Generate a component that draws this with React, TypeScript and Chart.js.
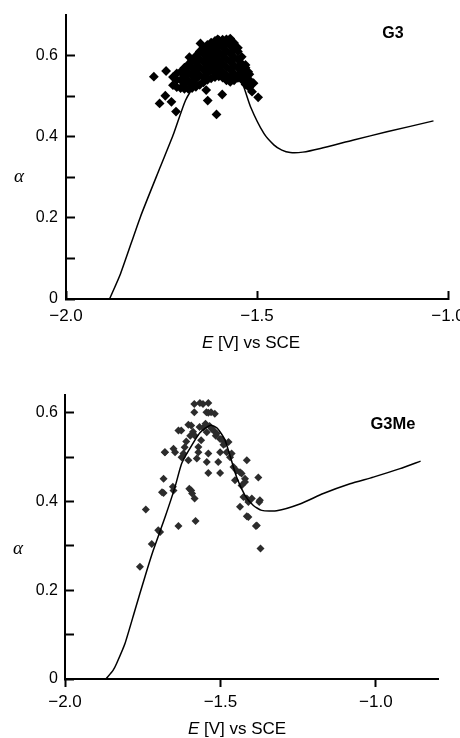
import React, { useEffect, useRef } from 'react';
import { Chart, registerables } from 'chart.js';

Chart.register(...registerables);

// ---------- shared tick definitions ----------
const yTickValues = [0, 0.1, 0.2, 0.3, 0.4, 0.5, 0.6];
const yTickLabels = ['0', '', '0.2', '', '0.4', '', '0.6'];
const xTickValues = [-2.0, -1.5, -1.0];
const xTickLabels = ['\u22122.0', '\u22121.5', '\u22121.0'];

// ---------- G3 (top panel) ----------
const g3CurveE = [-1.886, -1.857, -1.805, -1.753, -1.718, -1.687, -1.66, -1.62, -1.58, -1.55, -1.539, -1.517, -1.482, -1.456, -1.435, -1.413, -1.38, -1.334, -1.247, -1.16, -1.038];
const g3CurveAlpha = [0, 0.063, 0.203, 0.326, 0.408, 0.49, 0.53, 0.55, 0.555, 0.55, 0.535, 0.474, 0.408, 0.38, 0.367, 0.361, 0.362, 0.371, 0.392, 0.412, 0.439];

const g3Scatter: [number, number][] = [
  [-1.770, 0.548], [-1.738, 0.562], [-1.755, 0.482], [-1.740, 0.501], [-1.724, 0.486], [-1.712, 0.462],
  [-1.677, 0.596], [-1.648, 0.630], [-1.603, 0.640], [-1.570, 0.642], [-1.629, 0.489], [-1.633, 0.515],
  [-1.606, 0.455], [-1.591, 0.504], [-1.509, 0.532], [-1.497, 0.497], [-1.513, 0.511], [-1.523, 0.560],
  [-1.537, 0.545], [-1.561, 0.593],
  [-1.72, 0.527], [-1.72, 0.547],
  [-1.71, 0.522], [-1.71, 0.540], [-1.71, 0.556],
  [-1.70, 0.520], [-1.70, 0.540], [-1.70, 0.560],
  [-1.69, 0.518], [-1.69, 0.530], [-1.69, 0.550], [-1.69, 0.570],
  [-1.68, 0.518], [-1.68, 0.538], [-1.68, 0.558], [-1.68, 0.578],
  [-1.67, 0.520], [-1.67, 0.530], [-1.67, 0.550], [-1.67, 0.570], [-1.67, 0.587],
  [-1.66, 0.523], [-1.66, 0.542], [-1.66, 0.562], [-1.66, 0.582], [-1.66, 0.599],
  [-1.65, 0.528], [-1.65, 0.552], [-1.65, 0.572], [-1.65, 0.592], [-1.65, 0.610],
  [-1.64, 0.534], [-1.64, 0.545], [-1.64, 0.565], [-1.64, 0.585], [-1.64, 0.605], [-1.64, 0.619],
  [-1.63, 0.540], [-1.63, 0.556], [-1.63, 0.576], [-1.63, 0.596], [-1.63, 0.614], [-1.63, 0.626],
  [-1.62, 0.544], [-1.62, 0.566], [-1.62, 0.586], [-1.62, 0.606], [-1.62, 0.624], [-1.62, 0.632],
  [-1.61, 0.547], [-1.61, 0.557], [-1.61, 0.577], [-1.61, 0.597], [-1.61, 0.617], [-1.61, 0.636],
  [-1.60, 0.549], [-1.60, 0.568], [-1.60, 0.588], [-1.60, 0.608], [-1.60, 0.628], [-1.60, 0.638],
  [-1.59, 0.546], [-1.59, 0.560], [-1.59, 0.580], [-1.59, 0.600], [-1.59, 0.620], [-1.59, 0.639],
  [-1.58, 0.539], [-1.58, 0.552], [-1.58, 0.572], [-1.58, 0.592], [-1.58, 0.612], [-1.58, 0.632], [-1.58, 0.640],
  [-1.57, 0.535], [-1.57, 0.545], [-1.57, 0.565], [-1.57, 0.585], [-1.57, 0.605], [-1.57, 0.625], [-1.57, 0.639],
  [-1.56, 0.539], [-1.56, 0.556], [-1.56, 0.576], [-1.56, 0.596], [-1.56, 0.616], [-1.56, 0.631],
  [-1.55, 0.545], [-1.55, 0.550], [-1.55, 0.570], [-1.55, 0.590], [-1.55, 0.610], [-1.55, 0.619],
  [-1.54, 0.541], [-1.54, 0.560], [-1.54, 0.580], [-1.54, 0.597],
  [-1.53, 0.529], [-1.53, 0.550], [-1.53, 0.570], [-1.53, 0.577],
  [-1.52, 0.521], [-1.52, 0.540], [-1.52, 0.554],
];

// ---------- G3Me (bottom panel) ----------
const g3meCurveE = [-1.868, -1.845, -1.834, -1.807, -1.775, -1.743, -1.716, -1.678, -1.646, -1.625, -1.602, -1.566, -1.532, -1.51, -1.485, -1.448, -1.421, -1.394, -1.367, -1.319, -1.242, -1.169, -1.083, -1.008, -0.922, -0.856];
const g3meCurveAlpha = [0, 0.02, 0.035, 0.08, 0.155, 0.23, 0.29, 0.365, 0.433, 0.485, 0.515, 0.555, 0.572, 0.565, 0.538, 0.455, 0.414, 0.391, 0.38, 0.379, 0.395, 0.418, 0.44, 0.455, 0.474, 0.491];

const g3meScatter: [number, number][] = [
  [-1.759, 0.253], [-1.740, 0.382], [-1.721, 0.304], [-1.700, 0.335], [-1.694, 0.331], [-1.683, 0.419],
  [-1.688, 0.421], [-1.683, 0.451], [-1.679, 0.511], [-1.678, 0.511], [-1.653, 0.433], [-1.651, 0.425],
  [-1.651, 0.519], [-1.646, 0.511], [-1.635, 0.345], [-1.635, 0.560], [-1.626, 0.560], [-1.625, 0.500],
  [-1.619, 0.508], [-1.615, 0.522], [-1.610, 0.535], [-1.603, 0.493], [-1.603, 0.573], [-1.600, 0.429],
  [-1.597, 0.548], [-1.594, 0.571], [-1.594, 0.425], [-1.591, 0.418], [-1.588, 0.557], [-1.584, 0.620],
  [-1.584, 0.601], [-1.583, 0.549], [-1.583, 0.407], [-1.580, 0.356], [-1.576, 0.497], [-1.571, 0.523],
  [-1.571, 0.511], [-1.567, 0.568], [-1.566, 0.622], [-1.562, 0.538], [-1.556, 0.620], [-1.555, 0.566],
  [-1.548, 0.575], [-1.545, 0.601], [-1.544, 0.556], [-1.544, 0.489], [-1.539, 0.622], [-1.539, 0.600],
  [-1.539, 0.508], [-1.539, 0.464], [-1.535, 0.570], [-1.530, 0.601], [-1.528, 0.564], [-1.522, 0.560],
  [-1.518, 0.598], [-1.515, 0.548], [-1.512, 0.553], [-1.507, 0.489], [-1.501, 0.541], [-1.501, 0.511],
  [-1.501, 0.464], [-1.495, 0.540], [-1.490, 0.528], [-1.485, 0.530], [-1.480, 0.511], [-1.474, 0.534],
  [-1.469, 0.500], [-1.464, 0.508], [-1.458, 0.478], [-1.453, 0.448], [-1.448, 0.470], [-1.437, 0.466],
  [-1.437, 0.388], [-1.432, 0.463], [-1.432, 0.436], [-1.426, 0.410], [-1.421, 0.451], [-1.421, 0.444],
  [-1.415, 0.493], [-1.415, 0.407], [-1.415, 0.367], [-1.410, 0.399], [-1.410, 0.365], [-1.399, 0.407],
  [-1.386, 0.345], [-1.383, 0.346], [-1.378, 0.454], [-1.375, 0.399], [-1.373, 0.403], [-1.371, 0.294],
];

type PanelSpec = {
  name: string;
  curveE: number[];
  curveAlpha: number[];
  scatter: [number, number][];
  xMax: number;
  yMax: number;
  height: number;
  yAxisWidth: number;
  rightPad: number;
  yTickPad: number;
  xTickLen: number;
  xTickPad: number;
  pointColor: string;
  pointRadius: number;
  alphaPos: [number, number];
  namePos: [number, number];
  nameSize: number;
  titlePos: [number, number];
};

const topSpec: PanelSpec = {
  name: 'G3',
  curveE: g3CurveE,
  curveAlpha: g3CurveAlpha,
  scatter: g3Scatter,
  xMax: -1.0,
  yMax: 0.7,
  height: 360,
  yAxisWidth: 66,
  rightPad: 12,
  yTickPad: 17,
  xTickLen: -8,
  xTickPad: 15,
  pointColor: '#000000',
  pointRadius: 4.9,
  alphaPos: [19, 177],
  namePos: [393, 34],
  nameSize: 16,
  titlePos: [251, 343],
};

const bottomSpec: PanelSpec = {
  name: 'G3Me',
  curveE: g3meCurveE,
  curveAlpha: g3meCurveAlpha,
  scatter: g3meScatter,
  xMax: -0.8,
  yMax: 0.64,
  height: 358,
  yAxisWidth: 65,
  rightPad: 22,
  yTickPad: 16,
  xTickLen: 8,
  xTickPad: 5,
  pointColor: '#2c2c2c',
  pointRadius: 4,
  alphaPos: [18, 169],
  namePos: [393, 44],
  nameSize: 16.5,
  titlePos: [237, 349],
};

function labelFor(values: number[], labels: string[], v: number): string {
  const i = values.findIndex((t) => Math.abs(t - v) < 1e-9);
  return i >= 0 ? labels[i] : '';
}

function makeConfig(spec: PanelSpec): any {
  const annotations = {
    id: 'annotations',
    afterDraw(chart: any) {
      const ctx = chart.ctx as CanvasRenderingContext2D;
      ctx.save();
      ctx.fillStyle = '#000';
      ctx.textBaseline = 'middle';
      ctx.textAlign = 'center';
      ctx.font = 'italic 19px "Liberation Serif"';
      ctx.fillText('\u03b1', spec.alphaPos[0], spec.alphaPos[1]);
      ctx.font = `bold ${spec.nameSize}px "Liberation Sans"`;
      ctx.fillText(spec.name, spec.namePos[0], spec.namePos[1]);
      const part1 = 'E';
      const part2 = ' [V] vs SCE';
      ctx.font = 'italic 17px "Liberation Sans"';
      const w1 = ctx.measureText(part1).width;
      ctx.font = '17px "Liberation Sans"';
      const w2 = ctx.measureText(part2).width;
      const start = spec.titlePos[0] - (w1 + w2) / 2;
      ctx.textAlign = 'left';
      ctx.font = 'italic 17px "Liberation Sans"';
      ctx.fillText(part1, start, spec.titlePos[1]);
      ctx.font = '17px "Liberation Sans"';
      ctx.fillText(part2, start + w1, spec.titlePos[1]);
      ctx.restore();
    },
  };

  return {
    type: 'scatter',
    data: {
      datasets: [
        {
          type: 'line',
          data: spec.curveE.map((e, i) => ({ x: e, y: spec.curveAlpha[i] })),
          borderColor: '#000',
          borderWidth: 1.5,
          pointRadius: 0,
          fill: false,
          tension: 0.2,
          order: 0,
        },
        {
          type: 'scatter',
          data: spec.scatter.map(([e, a]) => ({ x: e, y: a })),
          pointStyle: 'rectRot',
          pointRadius: spec.pointRadius,
          backgroundColor: spec.pointColor,
          borderWidth: 0,
          order: 1,
        },
      ],
    },
    options: {
      responsive: false,
      animation: false,
      events: [],
      layout: { padding: { left: 0, right: spec.rightPad, top: 15, bottom: 0 } },
      plugins: { legend: { display: false }, tooltip: { enabled: false } },
      scales: {
        x: {
          type: 'linear',
          min: -2,
          max: spec.xMax,
          afterBuildTicks: (s: any) => {
            s.ticks = xTickValues.map((v) => ({ value: v }));
          },
          afterFit: (s: any) => {
            s.height = spec.height - 299;
            s.paddingLeft = 0;
            s.paddingRight = 0;
          },
          border: { display: true, color: '#000', width: 2 },
          grid: {
            display: true,
            drawOnChartArea: false,
            drawTicks: true,
            tickLength: spec.xTickLen,
            tickColor: '#000',
            tickWidth: 2,
          },
          ticks: {
            color: '#000',
            font: { family: '"Liberation Sans"', size: 17 },
            padding: spec.xTickPad,
            maxRotation: 0,
            autoSkip: false,
            callback: (v: number) => labelFor(xTickValues, xTickLabels, v),
          },
        },
        y: {
          type: 'linear',
          min: 0,
          max: spec.yMax,
          afterBuildTicks: (s: any) => {
            s.ticks = yTickValues.map((v) => ({ value: v }));
          },
          afterFit: (s: any) => {
            s.width = spec.yAxisWidth;
            s.paddingTop = 0;
            s.paddingBottom = 0;
          },
          border: { display: true, color: '#000', width: 2 },
          grid: {
            display: true,
            drawOnChartArea: false,
            drawTicks: true,
            tickLength: -9,
            tickColor: '#000',
            tickWidth: 2,
          },
          ticks: {
            color: '#000',
            font: { family: '"Liberation Sans"', size: 16 },
            padding: spec.yTickPad,
            autoSkip: false,
            callback: (v: number) => labelFor(yTickValues, yTickLabels, v),
          },
        },
      },
    },
    plugins: [annotations],
  };
}

function Panel({ spec, top }: { spec: PanelSpec; top: number }) {
  const ref = useRef<HTMLCanvasElement | null>(null);
  useEffect(() => {
    if (!ref.current) return;
    const chart = new Chart(ref.current, makeConfig(spec));
    return () => chart.destroy();
  }, [spec]);
  return (
    <canvas
      ref={ref}
      width={460}
      height={spec.height}
      style={{ position: 'absolute', left: 0, top, width: 460, height: spec.height }}
    />
  );
}

export default function App() {
  return (
    <div style={{ position: 'fixed', left: 0, top: 0, width: 460, height: 738, background: '#fff', overflow: 'hidden' }}>
      <Panel spec={topSpec} top={0} />
      <Panel spec={bottomSpec} top={380} />
    </div>
  );
}
